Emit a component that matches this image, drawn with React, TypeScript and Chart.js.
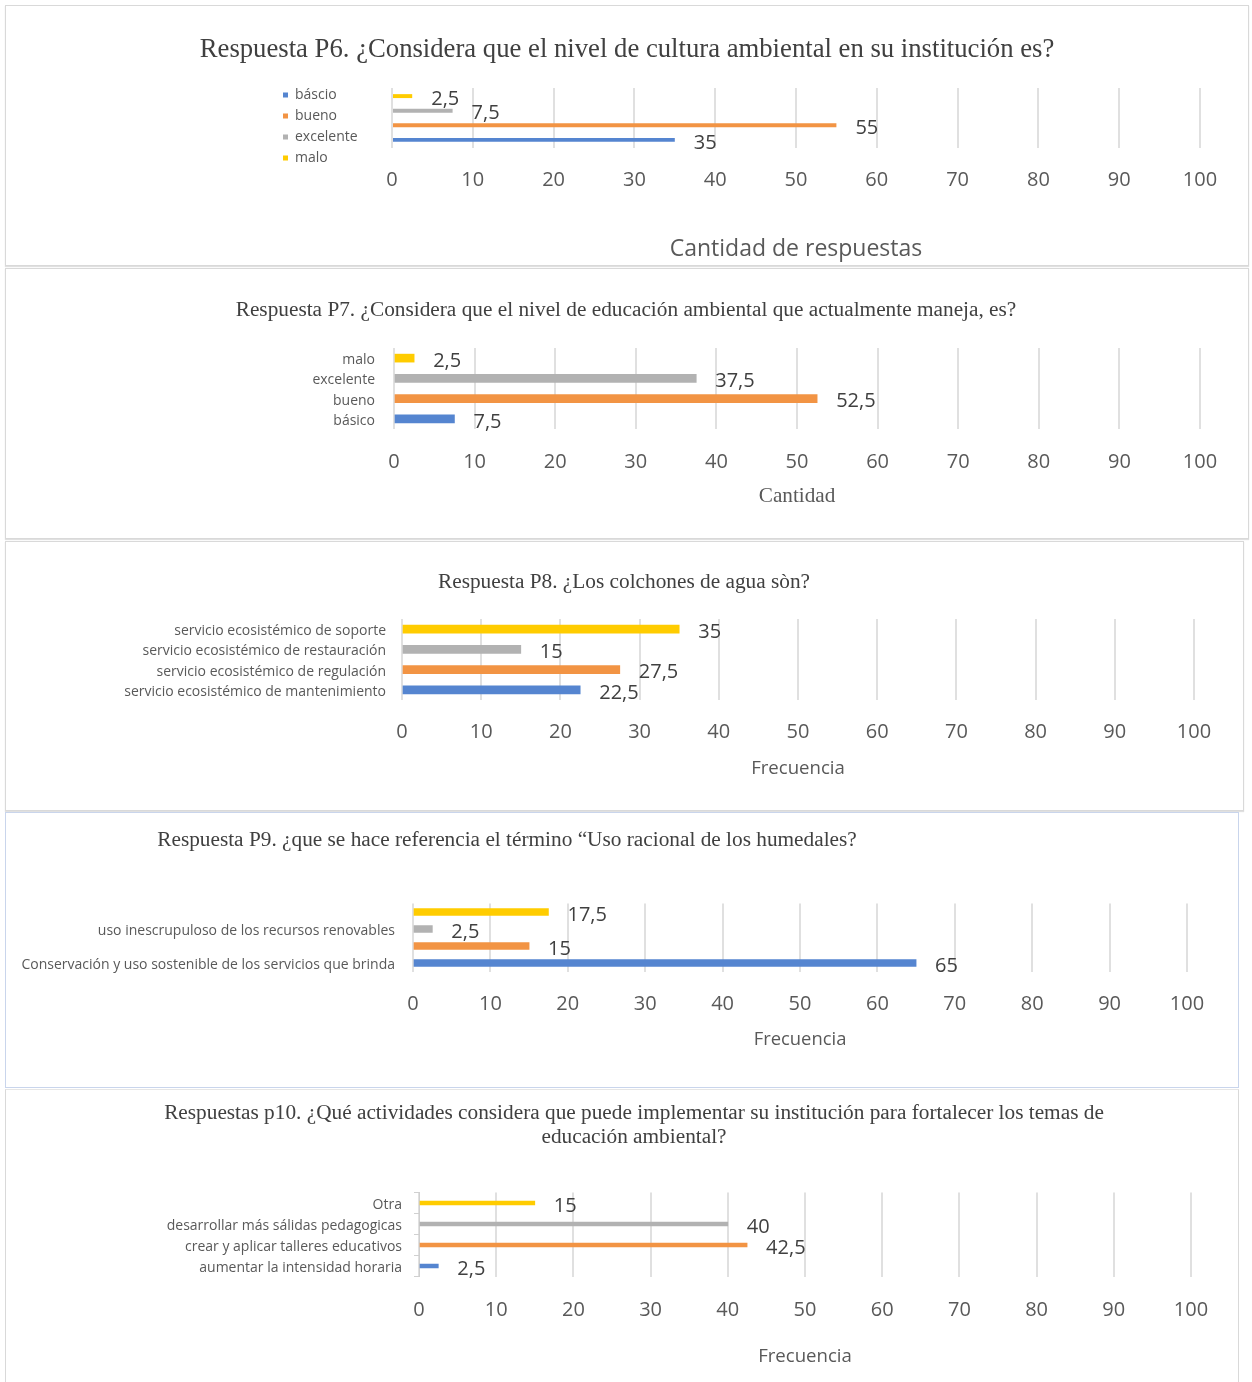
import React, { useEffect, useRef } from 'react';
import { Chart, registerables } from 'chart.js';

Chart.register(...registerables);

// ---------- data ----------
const xTickValues = [0, 10, 20, 30, 40, 50, 60, 70, 80, 90, 100];

const p6Categories = ['báscio', 'bueno', 'excelente', 'malo'];
const p6Values = [35, 55, 7.5, 2.5];

const p7Categories = ['básico', 'bueno', 'excelente', 'malo'];
const p7Values = [7.5, 52.5, 37.5, 2.5];

const p8Categories = [
  'servicio ecosistémico de mantenimiento',
  'servicio ecosistémico de regulación',
  'servicio ecosistémico de restauración',
  'servicio ecosistémico de soporte',
];
const p8Values = [22.5, 27.5, 15, 35];

const p9Categories = [
  'Conservación y uso sostenible de los servicios que brinda',
  '',
  'uso inescrupuloso de los recursos renovables',
  '',
];
const p9Values = [65, 15, 2.5, 17.5];

const p10Categories = [
  'aumentar la intensidad horaria',
  'crear y aplicar talleres educativos',
  'desarrollar más sálidas pedagogicas',
  'Otra',
];
const p10Values = [2.5, 42.5, 40, 15];

const titles = {
  p6: ['Respuesta P6. ¿Considera que el nivel de cultura ambiental en su institución es?'],
  p7: ['Respuesta P7. ¿Considera que el nivel de educación ambiental que actualmente maneja, es?'],
  p8: ['Respuesta P8. ¿Los colchones de agua sòn?'],
  p9: ['Respuesta P9. ¿que se hace referencia el término “Uso racional de los humedales?'],
  p10: [
    'Respuestas p10. ¿Qué actividades considera que puede implementar su institución para fortalecer los temas de',
    'educación ambiental?',
  ],
};
const axisTitles = {
  p6: 'Cantidad de respuestas',
  p7: 'Cantidad',
  p8: 'Frecuencia',
  p9: 'Frecuencia',
  p10: 'Frecuencia',
};

// ---------- styles ----------
const SERIES_COLORS = ['#5585D0', '#F29444', '#B2B2B2', '#FFCC00'];
const SANS = '"Open Sans", "DejaVu Sans", sans-serif';
const SERIF = '"Liberation Serif", "Times New Roman", serif';
const TEXT_GRAY = '#595959';
const LABEL_DARK = '#404040';
const GRID = '#E0E0E0';

const fmt = (v: number) => String(v).replace('.', ',');

const valueLabelPlugin = (dx: number, dy: number) => ({
  id: 'valueLabels',
  afterDatasetsDraw(chart: any) {
    const ctx = chart.ctx;
    ctx.save();
    ctx.font = `20px ${SANS}`;
    ctx.fillStyle = LABEL_DARK;
    ctx.textAlign = 'left';
    ctx.textBaseline = 'middle';
    chart.data.datasets.forEach((ds: any, di: number) => {
      const meta = chart.getDatasetMeta(di);
      meta.data.forEach((el: any, i: number) => {
        const v = ds.data[i];
        if (v == null) return;
        ctx.fillText(fmt(v), el.x + dx, el.y + dy);
      });
    });
    ctx.restore();
  },
});

type AxisOpts = {
  tickPad: number;
  xHeight: number;
  titleFont: any;
};

function xScale(o: AxisOpts, title: string) {
  return {
    type: 'linear',
    position: 'bottom',
    min: xTickValues[0],
    max: xTickValues[xTickValues.length - 1],
    ticks: {
      stepSize: xTickValues[1] - xTickValues[0],
      font: { family: SANS, size: 20 },
      color: TEXT_GRAY,
      padding: o.tickPad,
      maxRotation: 0,
    },
    grid: { color: GRID, lineWidth: 2, drawTicks: false },
    border: { display: false },
    title: {
      display: true,
      text: title,
      font: o.titleFont,
      color: TEXT_GRAY,
      padding: 0,
    },
    afterFit: (s: any) => {
      s.height = o.xHeight;
    },
  };
}

type SinglePanel = {
  categories: string[];
  values: number[];
  colors: string[];
  padding: any;
  yWidth: number;
  yPad: number;
  yTicks?: boolean;
  barThickness: number;
  tickPad: number;
  xHeight: number;
  axisTitle: string;
  axisTitleFont: any;
};

function singleConfig(p: SinglePanel) {
  return {
    type: 'bar',
    data: {
      labels: p.categories,
      datasets: [
        {
          label: 'Serie',
          data: p.values,
          backgroundColor: p.colors,
          barThickness: p.barThickness,
        },
      ],
    },
    plugins: [valueLabelPlugin(19, 3)],
    options: {
      indexAxis: 'y',
      responsive: false,
      animation: false,
      layout: { padding: p.padding },
      plugins: { legend: { display: false }, tooltip: { enabled: false }, title: { display: false } },
      scales: {
        x: xScale({ tickPad: p.tickPad, xHeight: p.xHeight, titleFont: p.axisTitleFont }, p.axisTitle),
        y: {
          reverse: true,
          ticks: {
            font: { family: SANS, size: 14 },
            color: TEXT_GRAY,
            padding: p.yPad,
            labelOffset: 2,
          },
          grid: p.yTicks
            ? { display: true, drawOnChartArea: false, drawTicks: true, tickLength: 5, color: '#D0D0D0' }
            : { display: false, drawTicks: false },
          border: p.yTicks ? { display: true, color: '#D0D0D0' } : { display: false },
          afterFit: (s: any) => {
            s.width = p.yWidth;
          },
        },
      },
    },
  };
}

function p6Config() {
  const order = [3, 2, 1, 0]; // top to bottom: malo, excelente, bueno, báscio
  return {
    type: 'bar',
    data: {
      labels: [''],
      datasets: order.map((i) => ({
        label: p6Categories[i],
        data: [p6Values[i]],
        backgroundColor: SERIES_COLORS[i],
        xAxisID: 'x',
        categoryPercentage: 0.973,
        barPercentage: 0.27,
      })),
    },
    plugins: [valueLabelPlugin(19, 3)],
    options: {
      indexAxis: 'y',
      responsive: false,
      animation: false,
      layout: { padding: { left: 271, right: 49, top: 76, bottom: 3 } },
      plugins: {
        tooltip: { enabled: false },
        legend: {
          display: true,
          position: 'left',
          align: 'start',
          reverse: true,
          labels: {
            boxWidth: 5,
            boxHeight: 5,
            padding: 7,
            color: TEXT_GRAY,
            font: { family: SANS, size: 14 },
          },
        },
      },
      scales: {
        x: xScale({ tickPad: 20, xHeight: 115, titleFont: { family: SANS, size: 23 } }, axisTitles.p6),
        xTop: {
          type: 'linear',
          position: 'top',
          display: true,
          ticks: { display: false },
          grid: { display: false },
          border: { display: false },
          afterFit: (s: any) => {
            s.height = 7;
          },
        },
        y: {
          ticks: { display: false },
          grid: { display: false },
          border: { display: false },
          afterFit: (s: any) => {
            const lw = s.chart.legend ? s.chart.legend.width : 0;
            s.width = Math.max(0, 387 - 271 - lw);
          },
        },
      },
    },
  };
}

type PanelDef = {
  key: string;
  left: number;
  top: number;
  width: number;
  height: number;
  border: any;
  titleLines: string[];
  titleCenterX: number;
  titleCenterY: number;
  titleSize: number;
  makeConfig: () => any;
};

const panels: PanelDef[] = [
  {
    key: 'p6',
    left: 5, top: 5, width: 1244, height: 261,
    border: { border: '1px solid #D9D9D9', boxShadow: '0 1px 1px rgba(0,0,0,0.12)' },
    titleLines: titles.p6, titleCenterX: 627, titleCenterY: 48, titleSize: 26.7,
    makeConfig: p6Config,
  },
  {
    key: 'p7',
    left: 5, top: 268, width: 1244, height: 271,
    border: { border: '1px solid #D9D9D9', boxShadow: '0 1px 1px rgba(0,0,0,0.12)' },
    titleLines: titles.p7, titleCenterX: 626, titleCenterY: 309, titleSize: 21.3,
    makeConfig: () =>
      singleConfig({
        categories: p7Categories,
        values: p7Values,
        colors: SERIES_COLORS,
        padding: { left: 0, right: 49, top: 80, bottom: 29.6 },
        yWidth: 389,
        yPad: 19,
        barThickness: 8,
        tickPad: 21,
        xHeight: 80.4,
        axisTitle: axisTitles.p7,
        axisTitleFont: { family: SERIF, size: 21.2 },
      }),
  },
  {
    key: 'p8',
    left: 5, top: 541, width: 1239, height: 270,
    border: { border: '1px solid #D9D9D9', boxShadow: '0 1px 1px rgba(0,0,0,0.12)' },
    titleLines: titles.p8, titleCenterX: 624, titleCenterY: 581, titleSize: 21.3,
    makeConfig: () =>
      singleConfig({
        categories: p8Categories,
        values: p8Values,
        colors: SERIES_COLORS,
        padding: { left: 0, right: 50, top: 78, bottom: 31.2 },
        yWidth: 397,
        yPad: 16,
        barThickness: 8,
        tickPad: 20,
        xHeight: 79.8,
        axisTitle: axisTitles.p8,
        axisTitleFont: { family: SANS, size: 18.6 },
      }),
  },
  {
    key: 'p9',
    left: 5, top: 812, width: 1234, height: 276,
    border: { border: '1px solid #C9D5EC' },
    titleLines: titles.p9, titleCenterX: 507, titleCenterY: 839, titleSize: 21.3,
    makeConfig: () =>
      singleConfig({
        categories: p9Categories,
        values: p9Values,
        colors: SERIES_COLORS,
        padding: { left: 0, right: 52, top: 91.5, bottom: 37.2 },
        yWidth: 408,
        yPad: 18,
        barThickness: 7,
        tickPad: 20.5,
        xHeight: 79.3,
        axisTitle: axisTitles.p9,
        axisTitleFont: { family: SANS, size: 18.4 },
      }),
  },
  {
    key: 'p10',
    left: 5, top: 1089, width: 1234, height: 293,
    border: { borderLeft: '1px solid #D9D9D9', borderRight: '1px solid #D9D9D9', borderTop: '1px solid #E6E6E6' },
    titleLines: titles.p10, titleCenterX: 634, titleCenterY: 1112, titleSize: 21.3,
    makeConfig: () =>
      singleConfig({
        categories: p10Categories,
        values: p10Values,
        colors: SERIES_COLORS,
        padding: { left: 0, right: 48, top: 103.5, bottom: 14.2 },
        yWidth: 414,
        yPad: 12,
        yTicks: true,
        barThickness: 4,
        tickPad: 21.5,
        xHeight: 91.3,
        axisTitle: axisTitles.p10,
        axisTitleFont: { family: SANS, size: 18.6 },
      }),
  },
];

function Panel({ def }: { def: PanelDef }) {
  const ref = useRef<HTMLCanvasElement | null>(null);
  useEffect(() => {
    if (!ref.current) return;
    const chart = new Chart(ref.current, def.makeConfig());
    return () => chart.destroy();
  }, [def]);
  const lh = Math.round(def.titleSize + 3);
  return (
    <>
      <canvas
        ref={ref}
        width={def.width}
        height={def.height}
        style={{
          position: 'absolute',
          left: def.left,
          top: def.top,
          width: def.width,
          height: def.height,
        }}
      />
      <div
        style={{
          position: 'absolute',
          left: def.left,
          top: def.top,
          width: def.width,
          height: def.height,
          boxSizing: 'border-box',
          pointerEvents: 'none',
          ...def.border,
        }}
      />
      <div
        style={{
          position: 'absolute',
          left: def.titleCenterX - 700,
          width: 1400,
          top: def.titleCenterY - lh / 2,
          textAlign: 'center',
          fontFamily: SERIF,
          fontSize: def.titleSize,
          lineHeight: `${def.titleLines.length > 1 ? 24 : lh}px`,
          color: LABEL_DARK,
          whiteSpace: 'nowrap',
        }}
      >
        {def.titleLines.map((l, i) => (
          <div key={i}>{l}</div>
        ))}
      </div>
    </>
  );
}

export default function App() {
  return (
    <div
      style={{
        position: 'absolute',
        left: 0,
        top: 0,
        width: 1252,
        height: 1382,
        background: '#FFFFFF',
        overflow: 'hidden',
      }}
    >
      {panels.map((p) => (
        <Panel key={p.key} def={p} />
      ))}
    </div>
  );
}
